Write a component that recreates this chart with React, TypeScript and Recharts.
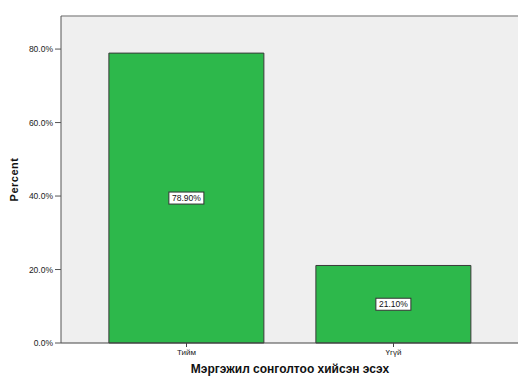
import { BarChart, Bar, XAxis, YAxis, CartesianGrid, ReferenceLine, LabelList, Label } from 'recharts'

const categories = ['Тийм', 'Үгүй']
const percents = [78.9, 21.1]
const yTicks = [0, 20, 40, 60, 80]

const data = categories.map((c, i) => ({ name: c, pct: percents[i] }))

const ValueBox = (props: any) => {
  const { x, y, width, height, value } = props
  const cx = x + width / 2
  const cy = y + height / 2
  const txt = `${Number(value).toFixed(2)}%`
  const w = 35
  const h = 12
  return (
    <g>
      <rect x={cx - w / 2} y={cy - h / 2} width={w} height={h} fill="#ffffff" stroke="#333" strokeWidth={1} />
      <text x={cx} y={cy + 3} textAnchor="middle" fontSize={8.5} fontFamily="Liberation Sans, Arial" fill="#111">
        {txt}
      </text>
    </g>
  )
}

export default function App() {
  return (
    <div style={{ position: 'absolute', left: 0, top: 0, width: 518, height: 376, overflow: 'hidden', background: '#fff' }}>
      <BarChart width={519} height={376} data={data} margin={{ top: 16, right: 0, bottom: 13, left: 0 }} barCategoryGap="12.5%">
        <CartesianGrid fill="#efefef" horizontal={false} vertical={false} />
        <XAxis
          dataKey="name"
          padding={{ left: 22, right: 22 }}
          height={20}
          tickSize={4}
          stroke="#444"
          tick={{ fontSize: 8, fill: '#222', fontFamily: 'Liberation Sans, Arial' }}
        >
          <Label value="Мэргэжил сонголтоо хийсэн эсэх" position="insideBottom" offset={-10}
            style={{ fontSize: 12, fontWeight: 'bold', fill: '#111', fontFamily: 'Liberation Sans, Arial' }} />
        </XAxis>
        <YAxis
          domain={[0, 89]}
          ticks={yTicks}
          width={61}
          tickSize={6}
          stroke="#555"
          tickFormatter={v => `${Number(v).toFixed(1)}%`}
          tick={{ fontSize: 8.5, fill: '#222', fontFamily: 'Liberation Sans, Arial' }}
        >
          <Label value="Percent" angle={-90} position="insideLeft" offset={14}
            style={{ fontSize: 11, fontWeight: 'bold', letterSpacing: 0.5, fill: '#111', fontFamily: 'Liberation Sans, Arial', textAnchor: 'middle' }} />
        </YAxis>
        <ReferenceLine y={89} stroke="#999" strokeWidth={1.5} />
        <Bar dataKey="pct" fill="#2db84b" stroke="#3a3a3a" strokeWidth={1} isAnimationActive={false}>
          <LabelList dataKey="pct" content={ValueBox} />
        </Bar>
      </BarChart>
    </div>
  )
}
